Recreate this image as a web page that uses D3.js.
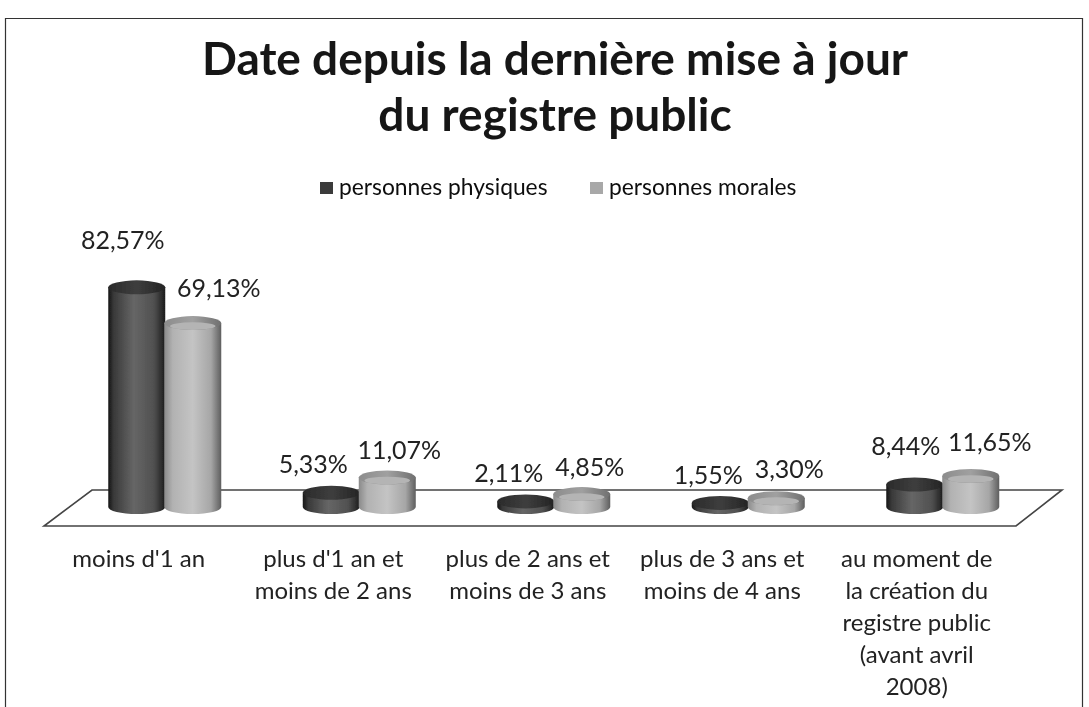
<!DOCTYPE html>
<html>
<head>
<meta charset="utf-8">
<title>Date depuis la dernière mise à jour du registre public</title>
<script src="https://cdn.jsdelivr.net/npm/d3@7"></script>
<style>
  html, body { margin: 0; padding: 0; background: #fff; overflow: hidden; }
  svg { display: block; font-family: Lato, "Open Sans", sans-serif; fill: #222; }
</style>
</head>
<body>
<svg id="chart" width="1089" height="707"></svg>
<script>
const titleLines = ["Date depuis la dernière mise à jour", "du registre public"];
const seriesNames = ["personnes physiques", "personnes morales"];
const categories = ["a", "b", "c", "d", "e"];
const categoryLines = [
  ["moins d'1 an"],
  ["plus d'1 an et", "moins de 2 ans"],
  ["plus de 2 ans et", "moins de 3 ans"],
  ["plus de 3 ans et", "moins de 4 ans"],
  ["au moment de", "la création du", "registre public", "(avant avril", "2008)"]
];
const physiques = [82.57, 5.33, 2.11, 1.55, 8.44];
const morales = [69.13, 11.07, 4.85, 3.30, 11.65];

// manual label placement, the original chart had them dragged around
const labelNudge = [
  [[-14, -38], [26, -26]],
  [[-18, -20], [12, -19]],
  [[-17, -19], [8, -18]],
  [[-12, -19], [13, -20]],
  [[-9, -30], [19, -25]]
];

const fmt = v => v.toFixed(2).replace(".", ",") + "%";

const svg = d3.select("#chart");

const x = d3.scaleBand().domain(categories).range([67.5, 1040]).paddingInner(0).paddingOuter(0);
const x1 = d3.scaleBand().domain([0, 1]).range([x.bandwidth() / 2 - 56, x.bandwidth() / 2 + 56]);
const y = d3.scaleLinear().domain([0, 100]).range([507, 241]);

const defs = svg.append("defs");

function cylGradient(id, stops) {
  const g = defs.append("linearGradient").attr("id", id);
  stops.forEach(s => g.append("stop").attr("offset", s[0]).attr("stop-color", s[1]));
}
cylGradient("darkBody", [[0, "#161616"], [0.1, "#3a3a3a"], [0.45, "#666"], [0.8, "#505050"], [1, "#1c1c1c"]]);
cylGradient("lightBody", [[0, "#8a8a8a"], [0.15, "#b2b2b2"], [0.5, "#c4c4c4"], [0.82, "#a6a6a6"], [1, "#5e5e5e"]]);
cylGradient("darkTop", [[0, "#2a2a2a"], [0.5, "#3e3e3e"], [1, "#242424"]]);
cylGradient("lightTop", [[0, "#8c8c8c"], [0.5, "#a0a0a0"], [1, "#707070"]]);
defs.append("filter").attr("id", "soft").append("feGaussianBlur").attr("stdDeviation", 0.6);
defs.append("filter").attr("id", "softText").append("feGaussianBlur").attr("stdDeviation", 0.35);

// frame, open at the bottom like the cropped scan
svg.append("path")
  .attr("d", d3.line()([[5.5, 707], [5.5, 18.5], [1082.5, 18.5], [1082.5, 707]]))
  .attr("fill", "none").attr("stroke", "#333").attr("stroke-width", 1.2);

const texts = svg.append("g").attr("filter", "url(#softText)");

texts.selectAll(".title").data(titleLines).enter().append("text")
  .attr("class", "title")
  .attr("x", 555)
  .attr("y", (d, i) => 75 + i * 56)
  .attr("text-anchor", "middle")
  .attr("font-size", 46)
  .attr("font-weight", 700)
  .attr("fill", "#151515")
  .text(d => d);

// legend
[[320, "#3a3a3a"], [590, "#a8a8a8"]].forEach((l, i) => {
  svg.append("rect").attr("x", l[0]).attr("y", 182).attr("width", 13).attr("height", 12)
    .attr("fill", l[1]).attr("filter", "url(#soft)");
  texts.append("text").attr("x", l[0] + 19).attr("y", 195)
    .attr("font-size", 22.8).attr("fill", "#111")
    .text(seriesNames[i]);
});

// floor of the 3d plot
svg.append("path")
  .attr("d", d3.line()([[92, 490], [1062, 490], [1016, 526], [44, 526]]) + "Z")
  .attr("fill", "#fff").attr("stroke", "#444").attr("stroke-width", 1.6).attr("filter", "url(#soft)");

function cylinder(g, cx, v, body, top, inner) {
  const rx = 28.5, ry = 7;
  const y0 = y(0), yv = y(v);
  g.append("path")
    .attr("d", `M${cx - rx},${yv}L${cx - rx},${y0}A${rx},${ry} 0 0 0 ${cx + rx},${y0}L${cx + rx},${yv}Z`)
    .attr("fill", `url(#${body})`);
  g.append("ellipse")
    .attr("cx", cx).attr("cy", yv).attr("rx", rx).attr("ry", ry)
    .attr("fill", `url(#${top})`);
  if (inner) {
    g.append("ellipse")
      .attr("cx", cx).attr("cy", yv + 3).attr("rx", rx * 0.8).attr("ry", ry * 0.55)
      .attr("fill", inner);
  }
}

const marks = svg.append("g").attr("filter", "url(#soft)");
categories.forEach((c, i) => {
  cylinder(marks, x(c) + x1(0) + x1.bandwidth() / 2, physiques[i], "darkBody", "darkTop");
  cylinder(marks, x(c) + x1(1) + x1.bandwidth() / 2, morales[i], "lightBody", "lightTop", "#b4b4b4");
});

// value labels
categories.forEach((c, i) => {
  [physiques[i], morales[i]].forEach((v, s) => {
    texts.append("text")
      .attr("x", x(c) + x1(s) + x1.bandwidth() / 2 + labelNudge[i][s][0])
      .attr("y", y(v) + labelNudge[i][s][1])
      .attr("text-anchor", "middle")
      .attr("font-size", 25)
      .attr("fill", "#222")
      .text(fmt(v));
  });
});

// category labels
categories.forEach((c, i) => {
  const t = texts.append("text")
    .attr("text-anchor", "middle")
    .attr("font-size", 24)
    .attr("fill", "#222");
  categoryLines[i].forEach((line, k) => {
    t.append("tspan")
      .attr("x", x(c) + x.bandwidth() / 2 - 26)
      .attr("y", 567 + k * 32)
      .text(line);
  });
});
</script>
</body>
</html>
